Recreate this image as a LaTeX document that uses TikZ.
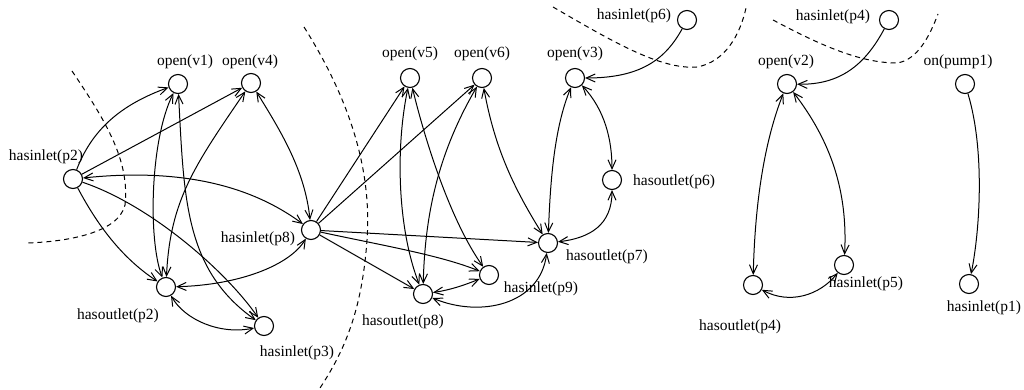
\documentclass[tikz,border=0pt]{standalone}
\usepackage{fontspec}
\setmainfont{Liberation Serif}
\usetikzlibrary{arrows.meta}
\begin{document}
\begin{tikzpicture}[x=1pt,y=-1pt,
  st/.style={circle,draw,minimum size=19pt,inner sep=0pt,line width=1.1pt},
  lab/.style={inner sep=0pt,font=\fontsize{15.5}{18}\selectfont},
  e/.style={line width=1pt,-{Straight Barb[length=9pt,width=8pt]}},
  be/.style={line width=1pt,{Straight Barb[length=9pt,width=8pt]}-{Straight Barb[length=9pt,width=8pt]}},
  cut/.style={line width=1pt,dash pattern=on 5pt off 4pt}]
\useasboundingbox (0,0) rectangle (1024,390);
% state nodes
\node[st] (v1) at (178,84) {};
\node[st] (v4) at (251,83) {};
\node[st] (p2i) at (73,179) {};
\node[st] (p8i) at (311,230) {};
\node[st] (p2o) at (166,287) {};
\node[st] (p3i) at (264,326) {};
\node[st] (v5) at (410,78) {};
\node[st] (v6) at (482,78) {};
\node[st] (v3) at (575,78) {};
\node[st] (p6i) at (687,20) {};
\node[st] (p6o) at (612,180) {};
\node[st] (p7o) at (548,243) {};
\node[st] (p9i) at (489,275) {};
\node[st] (p8o) at (423,294) {};
\node[st] (p4i) at (889,20) {};
\node[st] (v2) at (787,84) {};
\node[st] (pump) at (965,84) {};
\node[st] (p4o) at (753,285) {};
\node[st] (p5i) at (844,265) {};
\node[st] (p1i) at (969,284) {};
% labels
\node[lab] (lv1) at (185,62) {open(v1)};
\node[lab] (lv4) at (250,62) {open(v4)};
\node[lab] (lp2i) at (46,157) {hasinlet(p2)};
\node[lab] (lp8i) at (258,239) {hasinlet(p8)};
\node[lab] (lp2o) at (118,316) {hasoutlet(p2)};
\node[lab] (lp3i) at (297,353) {hasinlet(p3)};
\node[lab] (lv5) at (410,54) {open(v5)};
\node[lab] (lv6) at (482,54) {open(v6)};
\node[lab] (lv3) at (575,54) {open(v3)};
\node[lab] (lp6i) at (634,16) {hasinlet(p6)};
\node[lab] (lp6o) at (674,182) {hasoutlet(p6)};
\node[lab] (lp7o) at (607,257) {hasoutlet(p7)};
\node[lab] (lp9i) at (541,289) {hasinlet(p9)};
\node[lab] (lp8o) at (403,322) {hasoutlet(p8)};
\node[lab] (lp4i) at (833,17) {hasinlet(p4)};
\node[lab] (lv2) at (786,62) {open(v2)};
\node[lab] (lpump) at (958,62) {on(pump1)};
\node[lab] (lp4o) at (740,327) {hasoutlet(p4)};
\node[lab] (lp5i) at (866,284) {hasinlet(p5)};
\node[lab] (lp1i) at (984,308) {hasinlet(p1)};
% cuts
\draw[cut] (72,71) .. controls (105,120) and (130,160) .. (125,205) .. controls (118,235) and (60,242) .. (27,243);
\draw[cut] (304,27) .. controls (350,100) and (372,170) .. (367,240) .. controls (362,310) and (345,350) .. (320,388);
\draw[cut] (553,7) .. controls (610,40) and (660,70) .. (697,67) .. controls (725,62) and (740,35) .. (746,8);
\draw[cut] (773,20) .. controls (820,45) and (860,63) .. (897,63) .. controls (918,60) and (930,35) .. (938,14);
% edges left group
\draw[e] (p2i) .. controls (92,130) and (120,105) .. (v1);
\draw[e] (p2i) -- (v4);
\draw[be] (p2i) .. controls (180,168) and (250,185) .. (p8i);
\draw[e] (p2i) .. controls (150,205) and (225,270) .. (p3i);
\draw[e] (p2i) .. controls (100,230) and (125,260) .. (p2o);
\draw[be] (v1) .. controls (150,140) and (148,240) .. (p2o);
\draw[be] (v4) .. controls (195,165) and (170,200) .. (p2o);
\draw[be] (v1) .. controls (184,200) and (185,270) .. (p3i);
\draw[be] (v4) .. controls (280,130) and (305,170) .. (p8i);
\draw[be] (p2o) .. controls (240,285) and (290,265) .. (p8i);
\draw[be] (p2o) .. controls (185,320) and (220,335) .. (p3i);
% edges middle group
\draw[e] (p8i) -- (v5);
\draw[e] (p8i) -- (v6);
\draw[e] (p8i) -- (p7o);
\draw[e] (p8i) .. controls (380,245) and (440,255) .. (p9i);
\draw[e] (p8i) -- (p8o);
\draw[be] (v5) .. controls (395,150) and (398,230) .. (p8o);
\draw[be] (v5) .. controls (425,140) and (450,220) .. (p9i);
\draw[be] (v6) .. controls (440,150) and (425,210) .. (p8o);
\draw[be] (v6) .. controls (495,150) and (515,190) .. (p7o);
\draw[be] (v3) .. controls (553,130) and (550,190) .. (p7o);
\draw[be] (v3) .. controls (605,110) and (612,140) .. (p6o);
\draw[e] (p6i) .. controls (665,60) and (640,78) .. (v3);
\draw[be] (p6o) .. controls (612,225) and (590,238) .. (p7o);
\draw[be] (p8o) .. controls (480,318) and (540,305) .. (p7o);
\draw[be] (p8o) .. controls (450,290) and (465,285) .. (p9i);
% edges right group
\draw[e] (p4i) .. controls (865,65) and (840,85) .. (v2);
\draw[be] (v2) .. controls (765,140) and (755,200) .. (p4o);
\draw[be] (v2) .. controls (830,140) and (848,190) .. (p5i);
\draw[be] (p5i) .. controls (820,295) and (790,305) .. (p4o);
\draw[e] (pump) .. controls (985,150) and (980,230) .. (p1i);
\end{tikzpicture}
\end{document}
